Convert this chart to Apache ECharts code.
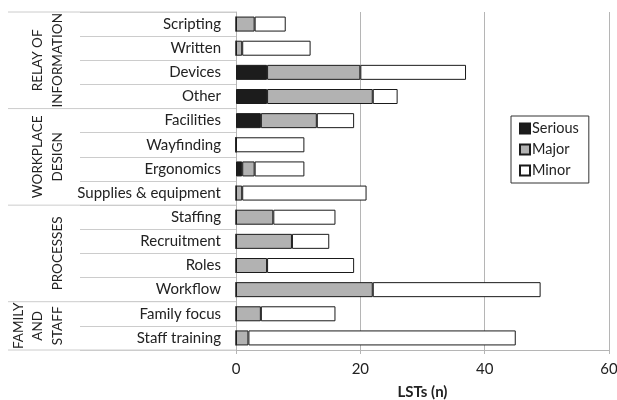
<!DOCTYPE html>
<html>
<head>
<meta charset="utf-8">
<script src="https://cdn.jsdelivr.net/npm/echarts@6/dist/echarts.min.js"></script>
<style>
  html, body { margin: 0; padding: 0; background: #fff; }
  #chart { width: 617px; height: 400px; }
</style>
</head>
<body>
<div id="chart"></div>
<script>
// categories, top to bottom
const categories = ['Scripting', 'Written', 'Devices', 'Other',
  'Facilities', 'Wayfinding', 'Ergonomics', 'Supplies & equipment',
  'Staffing', 'Recruitment', 'Roles', 'Workflow',
  'Family focus', 'Staff training'];
const groupNames = ['RELAY OF\nINFORMATION', 'WORKPLACE\nDESIGN', 'PROCESSES', 'FAMILY\nAND\nSTAFF'];
const groupSizes = [4, 4, 4, 2];

const serious = [0, 0, 5, 5, 4, 0, 1, 0, 0, 0, 0, 0, 0, 0];
const major = [3, 1, 15, 17, 9, 0, 2, 1, 6, 9, 5, 22, 4, 2];
const minor = [5, 11, 17, 4, 6, 11, 8, 20, 10, 6, 14, 27, 12, 43];

const xTicks = [0, 20, 40, 60];

const FONT = 'Lato';
const gridLeft = 236;

const chart = echarts.init(document.getElementById('chart'));

function bar(name, data, color) {
  return {
    name: name,
    type: 'bar',
    stack: 'total',
    data: data,
    barWidth: 15,
    itemStyle: { color: color, borderColor: '#1a1a1a', borderWidth: 1 }
  };
}

const option = {
  animation: false,
  textStyle: { fontFamily: FONT },
  grid: { left: gridLeft, right: 8, top: 12, bottom: 50, outerBoundsMode: 'none', containLabel: false },
  legend: {
    orient: 'vertical',
    left: 511,
    top: 116,
    width: 81,
    padding: [5, 10, 5, 8],
    itemGap: 6,
    itemWidth: 10,
    itemHeight: 10,
    borderColor: '#333',
    borderWidth: 1,
    icon: 'rect',
    textStyle: { fontFamily: FONT, fontSize: 14.5, color: '#222', padding: [0, 0, 0, -3] },
    data: ['Serious', 'Major', 'Minor']
  },
  xAxis: {
    type: 'value',
    min: xTicks[0],
    max: xTicks[xTicks.length - 1],
    interval: 20,
    name: 'LSTs (n)',
    nameLocation: 'middle',
    nameGap: 35,
    nameTextStyle: { fontFamily: FONT, fontSize: 15, fontWeight: 'bold', color: '#222' },
    axisLine: { show: true, lineStyle: { color: '#b5b5b5', width: 1 } },
    axisTick: { show: true, length: 4, lineStyle: { color: '#b5b5b5' } },
    axisLabel: { fontFamily: FONT, fontSize: 15, color: '#222', margin: 12 },
    splitLine: { show: true, lineStyle: { color: '#b5b5b5', width: 1 } }
  },
  yAxis: {
    type: 'category',
    inverse: true,
    data: categories,
    axisLine: { show: true, lineStyle: { color: '#b5b5b5', width: 1 } },
    axisTick: { show: true, length: 156, lineStyle: { color: '#cccccc', width: 1 } },
    axisLabel: { fontFamily: FONT, fontSize: 15, color: '#222', margin: 15 }
  },
  series: [
    bar('Serious', serious, '#1c1c1c'),
    bar('Major', major, '#b2b2b2'),
    bar('Minor', minor, '#ffffff')
  ]
};

chart.setOption(option);

// group separators and rotated group labels, placed from the category axis
const c0 = chart.convertToPixel({ yAxisIndex: 0 }, categories[0]);
const c1 = chart.convertToPixel({ yAxisIndex: 0 }, categories[1]);
const step = c1 - c0;
const plotTop = c0 - step / 2;
const graphics = [];
let start = 0;
graphics.push({
  type: 'line', silent: true,
  shape: { x1: 8, y1: plotTop, x2: gridLeft, y2: plotTop },
  style: { stroke: '#cccccc', lineWidth: 1 }
});
groupSizes.forEach(function (n, i) {
  const yTop = plotTop + start * step;
  const yBot = plotTop + (start + n) * step;
  graphics.push({
    type: 'line', silent: true,
    shape: { x1: 8, y1: yBot, x2: gridLeft, y2: yBot },
    style: { stroke: '#cccccc', lineWidth: 1 }
  });
  graphics.push({
    type: 'text', silent: true,
    x: 67, y: (yTop + yBot) / 2,
    rotation: Math.PI / 2,
    style: {
      text: groupNames[i],
      fontFamily: FONT, fontSize: 13.5, lineHeight: 19.5,
      fill: '#222', align: 'center', verticalAlign: 'bottom'
    }
  });
  start += n;
});
chart.setOption({ graphic: graphics });
</script>
</body>
</html>
